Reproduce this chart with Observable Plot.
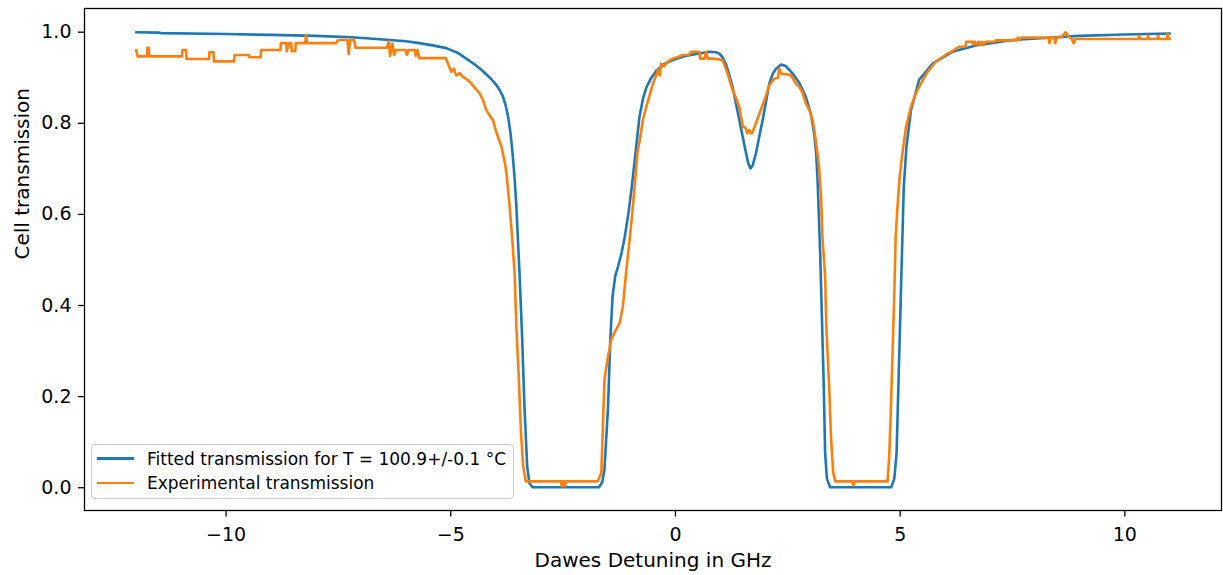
<!DOCTYPE html>
<html><head><meta charset="utf-8">
<script src="https://cdn.jsdelivr.net/npm/d3@7"></script>
<script src="https://cdn.jsdelivr.net/npm/@observablehq/plot@0.6"></script>
<style>
body{margin:0;background:#fff;}
#wrap{position:relative;width:1223px;height:575px;font-family:"DejaVu Sans",sans-serif;}
#legend{position:absolute;left:91px;top:444px;width:423px;height:55px;border:1px solid #cccccc;border-radius:4px;background:rgba(255,255,255,0.8);box-sizing:border-box;}
.row{position:absolute;left:0;height:24px;display:flex;align-items:center;font-size:17px;color:#000;white-space:nowrap;}
.sw{display:inline-block;width:37px;height:2.6px;margin-left:5px;margin-right:13px;}
</style>
</head><body>
<div id="wrap"></div>
<script>
const xLabel = "Dawes Detuning in GHz";
const yLabel = "Cell transmission";
const seriesNames = ["Fitted transmission for T = 100.9+/-0.1 °C", "Experimental transmission"];
const seriesColors = ["#1f77b4", "#ff7f0e"];
const xTicks = [-10, -5, 0, 5, 10];
const yTicks = [0, 0.2, 0.4, 0.6, 0.8, 1.0];

// [detuning GHz, transmission]
const fittedPoints = [
[-12.0,1.000],[-11.5,0.999],[-11.45,0.998],[-10.0,0.996],[-9.0,0.994],[-8.0,0.992],[-7.2,0.989],[-6.5,0.984],[-6.0,0.980],[-5.7,0.976],[-5.4,0.971],[-5.1,0.965],[-4.85,0.955],[-4.6,0.938],[-4.45,0.928],[-4.3,0.916],[-4.13,0.900],[-4.0,0.886],[-3.9,0.871],[-3.84,0.859],[-3.78,0.840],[-3.72,0.812],[-3.67,0.778],[-3.63,0.740],[-3.58,0.680],[-3.54,0.617],[-3.47,0.471],[-3.41,0.325],[-3.36,0.178],[-3.30,0.047],[-3.25,0.010],[-3.18,0.001],
[-1.70,0.001],[-1.63,0.012],[-1.58,0.040],[-1.50,0.178],[-1.45,0.325],[-1.40,0.420],[-1.34,0.465],[-1.28,0.485],[-1.20,0.515],[-1.13,0.550],[-1.05,0.600],[-0.98,0.654],[-0.90,0.725],[-0.80,0.815],[-0.72,0.855],[-0.65,0.878],[-0.55,0.898],[-0.43,0.915],[-0.25,0.930],[-0.06,0.939],[0.20,0.947],[0.40,0.951],[0.76,0.957],[0.90,0.956],[0.98,0.953],[1.06,0.943],[1.13,0.928],[1.20,0.905],[1.27,0.880],[1.42,0.807],[1.57,0.734],[1.62,0.712],[1.67,0.701],[1.72,0.708],[1.79,0.734],[1.94,0.807],[2.09,0.888],[2.17,0.910],[2.24,0.920],[2.35,0.929],[2.45,0.926],[2.61,0.909],[2.76,0.888],[2.90,0.858],[3.01,0.822],[3.09,0.775],[3.13,0.735],[3.16,0.680],[3.22,0.515],[3.26,0.368],[3.30,0.222],[3.33,0.076],[3.37,0.020],[3.44,0.001],
[4.80,0.001],[4.87,0.020],[4.92,0.076],[4.96,0.222],[5.00,0.368],[5.04,0.515],[5.08,0.661],[5.14,0.749],[5.24,0.829],[5.42,0.895],[5.72,0.931],[6.16,0.957],[6.68,0.971],[7.50,0.983],[8.98,0.992],[10.0,0.995],[11.0,0.997]
];

const experimentalPoints = [
[-12.00,0.961],[-11.97,0.947],[-11.76,0.947],[-11.75,0.966],[-11.72,0.966],[-11.71,0.947],[-10.98,0.947],[-10.97,0.961],[-10.89,0.961],[-10.88,0.941],[-10.38,0.941],[-10.37,0.956],[-10.28,0.956],[-10.27,0.936],[-9.82,0.936],[-9.81,0.950],[-9.49,0.950],[-9.48,0.945],[-9.23,0.945],[-9.22,0.961],[-8.79,0.961],[-8.78,0.976],[-8.66,0.976],[-8.65,0.958],[-8.60,0.976],[-8.55,0.976],[-8.54,0.958],[-8.46,0.958],[-8.45,0.976],[-8.24,0.976],[-8.22,0.994],[-8.20,0.976],[-7.56,0.976],[-7.50,0.983],[-7.30,0.983],[-7.27,0.952],[-7.24,0.983],[-7.15,0.983],[-7.12,0.966],[-6.42,0.966],[-6.38,0.980],[-6.35,0.948],[-6.30,0.975],[-6.26,0.950],[-6.22,0.961],[-6.00,0.961],[-5.98,0.950],[-5.94,0.961],[-5.80,0.961],[-5.78,0.948],[-5.74,0.961],[-5.70,0.943],[-5.11,0.943],
[-5.05,0.928],[-4.99,0.913],[-4.93,0.920],[-4.88,0.905],[-4.80,0.910],[-4.73,0.902],[-4.62,0.895],[-4.54,0.887],[-4.45,0.876],[-4.36,0.866],[-4.28,0.850],[-4.21,0.829],[-4.12,0.815],[-4.06,0.807],[-4.00,0.785],[-3.95,0.770],[-3.87,0.748],[-3.80,0.715],[-3.76,0.690],[-3.69,0.617],[-3.63,0.544],[-3.58,0.471],[-3.54,0.354],[-3.49,0.251],[-3.44,0.127],[-3.39,0.047],[-3.33,0.014],
[-2.55,0.014],[-2.53,0.003],[-2.51,0.014],[-2.48,0.014],[-2.46,0.003],[-2.44,0.014],[-1.73,0.014],
[-1.65,0.032],[-1.61,0.149],[-1.58,0.237],[-1.50,0.288],[-1.43,0.325],[-1.36,0.340],[-1.24,0.362],[-1.17,0.398],[-1.10,0.471],[-1.02,0.544],[-0.95,0.615],[-0.84,0.741],[-0.80,0.760],[-0.72,0.810],[-0.65,0.836],[-0.58,0.860],[-0.50,0.887],[-0.45,0.900],[-0.39,0.917],[-0.35,0.905],[-0.32,0.931],[-0.25,0.925],[-0.18,0.935],[-0.06,0.942],[0.05,0.945],[0.16,0.950],[0.30,0.950],[0.35,0.957],[0.53,0.957],[0.55,0.942],[0.65,0.942],[0.68,0.957],[0.72,0.942],[0.83,0.942],[1.05,0.939],[1.10,0.925],[1.16,0.909],[1.27,0.873],[1.35,0.855],[1.42,0.836],[1.50,0.792],[1.56,0.790],[1.60,0.778],[1.64,0.785],[1.70,0.778],[1.76,0.792],[1.87,0.822],[1.98,0.851],[2.09,0.884],[2.20,0.898],[2.28,0.900],[2.31,0.920],[2.35,0.909],[2.57,0.906],[2.68,0.887],[2.76,0.880],[2.83,0.866],[2.90,0.844],[2.98,0.829],[3.05,0.807],[3.09,0.785],[3.13,0.756],[3.16,0.734],[3.20,0.697],[3.24,0.639],[3.27,0.551],[3.33,0.463],[3.36,0.346],[3.42,0.222],[3.46,0.113],[3.51,0.032],[3.56,0.014],
[3.94,0.014],[3.96,0.005],[3.98,0.014],[4.72,0.014],
[4.76,0.076],[4.79,0.164],[4.83,0.295],[4.87,0.427],[4.90,0.551],[4.94,0.617],[4.99,0.683],[5.05,0.734],[5.13,0.792],[5.24,0.836],[5.35,0.866],[5.46,0.887],[5.61,0.913],[5.79,0.935],[6.01,0.950],[6.15,0.958],[6.31,0.968],[6.45,0.968],[6.47,0.979],[6.62,0.979],[6.63,0.972],[6.66,0.979],[6.70,0.972],[6.74,0.979],[6.78,0.972],[6.82,0.979],[6.86,0.972],[6.90,0.979],[7.10,0.979],[7.13,0.982],[7.60,0.982],[7.62,0.988],[7.66,0.984],[7.70,0.988],[8.30,0.988],[8.32,0.976],[8.35,0.988],[8.43,0.988],[8.45,0.976],[8.48,0.988],[8.60,0.990],[8.68,1.000],[8.75,0.990],[8.82,0.985],[8.86,0.976],[8.90,0.985],[10.30,0.985],[10.32,0.992],[10.34,0.985],[10.50,0.985],[10.52,0.992],[10.54,0.985],[10.72,0.985],[10.74,0.992],[10.76,0.985],[10.93,0.985],[10.95,0.996],[10.97,0.985],[11.0,0.985]
];

const chart = Plot.plot({
  width: 1223, height: 575,
  marginLeft: 84, marginRight: 2, marginTop: 8, marginBottom: 65,
  style: {fontFamily: "DejaVu Sans", background: "white", color: "black"},
  x: {domain: [-13.15, 12.15]},
  y: {domain: [-0.05, 1.052]},
  marks: [
    Plot.line(fittedPoints, {x: d => d[0], y: d => d[1], stroke: seriesColors[0], strokeWidth: 2.6}),
    Plot.line(experimentalPoints, {x: d => d[0], y: d => d[1], stroke: seriesColors[1], strokeWidth: 2.6}),
    Plot.frame({stroke: "black", strokeWidth: 1.3}),
    Plot.axisX(xTicks, {tickSize: 6.5, tickPadding: 10, fontSize: 19, label: null, strokeWidth: 1.3}),
    Plot.axisY(yTicks, {tickSize: 6, tickPadding: 7, fontSize: 19, label: null, strokeWidth: 1.3, tickFormat: d3.format(".1f")}),
    Plot.text([xLabel], {frameAnchor: "bottom", dy: 56.5, lineAnchor: "bottom", fontSize: 20, text: d => d}),
    Plot.text([yLabel], {frameAnchor: "left", dx: -56, rotate: -90, lineAnchor: "bottom", fontSize: 20, text: d => d})
  ]
});
const wrap = document.getElementById("wrap");
wrap.appendChild(chart);
const legend = document.createElement("div");
legend.id = "legend";
seriesNames.forEach((name, i) => {
  const row = document.createElement("div");
  row.className = "row";
  row.style.top = (1.5 + i * 24.4) + "px";
  const sw = document.createElement("span");
  sw.className = "sw";
  sw.style.background = seriesColors[i];
  const t = document.createElement("span");
  t.textContent = name;
  row.appendChild(sw); row.appendChild(t);
  legend.appendChild(row);
});
wrap.appendChild(legend);
</script>
</body></html>
